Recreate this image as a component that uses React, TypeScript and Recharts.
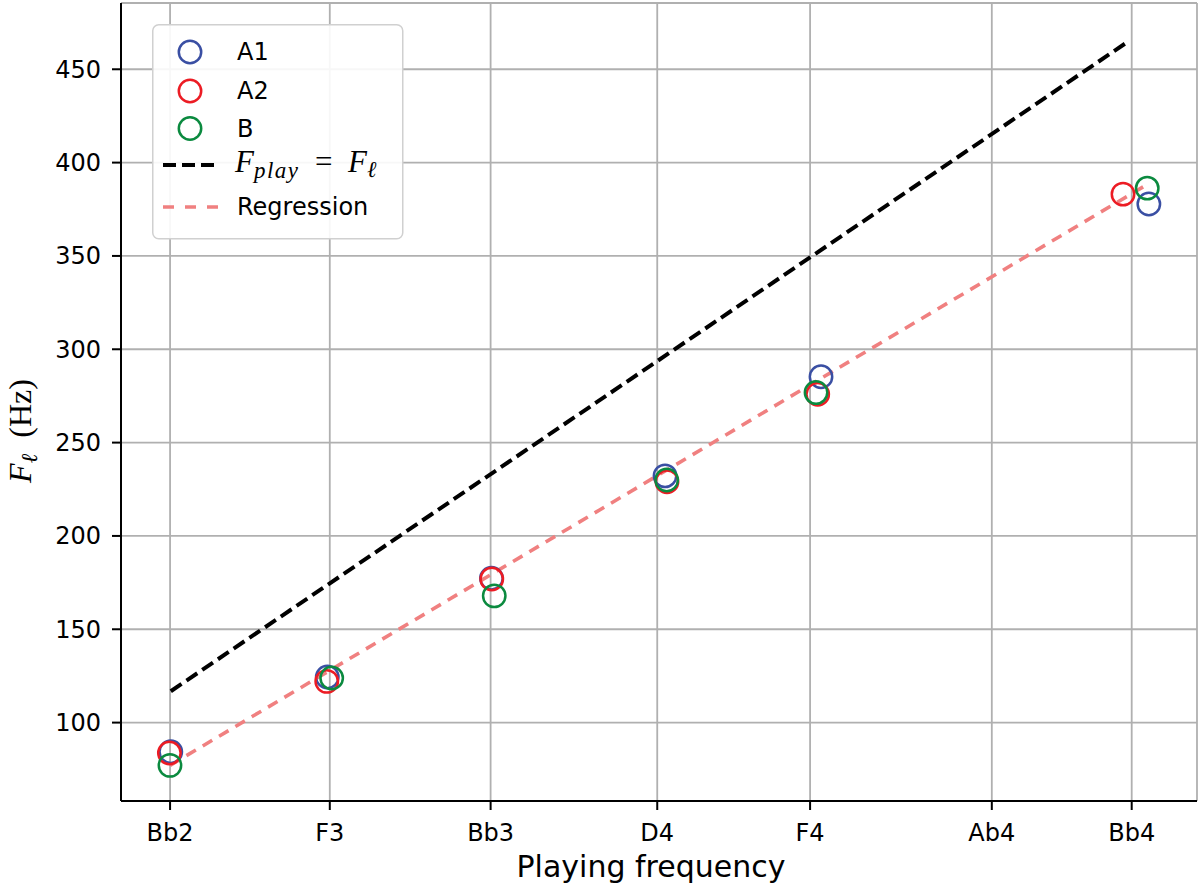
import React from 'react';
import { ComposedChart, Scatter, Line, XAxis, YAxis, CartesianGrid, Legend } from 'recharts';

// x axis: playing frequency in Hz, labelled with note names
const noteNames = ['Bb2', 'F3', 'Bb3', 'D4', 'F4', 'Ab4', 'Bb4'];
const noteFreqs = [116.54, 174.61, 233.08, 293.66, 349.23, 415.3, 466.16];
const yTicks = [100, 150, 200, 250, 300, 350, 400, 450];

// measured F_l per instrument (x is slightly jittered around the note)
const a1X = [116.8, 173.7, 233.4, 296.5, 353.2, 472.4];
const a1Y = [84.4, 124.4, 177.3, 232.2, 285.3, 377.8];
const a2X = [116.3, 173.5, 233.5, 297.2, 352.0, 463.0];
const a2Y = [83.7, 122.1, 176.9, 229.0, 275.9, 383.1];
const bX = [116.5, 175.3, 234.4, 297.1, 351.4, 471.8];
const bY = [77.1, 123.9, 167.9, 230.0, 276.8, 386.3];

const identityX = [116.8, 465.2];
const regressionX = [116.54, 471.8];
const regressionY = [77.1, 388.3];

const zip = (xs: number[], ys: number[]) => xs.map((x, i) => ({ x, y: ys[i] }));

const a1Data = zip(a1X, a1Y);
const a2Data = zip(a2X, a2Y);
const bData = zip(bX, bY);
const identityData = zip(identityX, identityX);
const regressionData = zip(regressionX, regressionY);

const BLUE = '#3a4fa3';
const RED = '#ec1c24';
const GREEN = '#0b8a3f';
const PINK = '#f08080';

const X_DOMAIN: [number, number] = [98.7, 489.9];
const Y_DOMAIN: [number, number] = [58, 485.5];

const ring = (color: string) => (props: any) => (
  <circle cx={props.cx} cy={props.cy} r={11.2} fill="none" stroke={color} strokeWidth={2.5} />
);

const tickStyle = { fontFamily: 'DejaVu Sans', fontSize: 24, fill: '#000' };
const mathFont = 'Liberation Serif';
const spine = { stroke: '#000', strokeWidth: 2 };

const LegendBox = () => (
  <svg width={252} height={216} style={{ display: 'block' }}>
    <rect x={0.75} y={0.75} width={250} height={214} rx={6} fill="#fff" fillOpacity={0.9} stroke="#d0d0d0" strokeWidth={1.5} />
    {[
      { label: 'A1', color: BLUE, y: 28 },
      { label: 'A2', color: RED, y: 67 },
      { label: 'B', color: GREEN, y: 104.5 },
    ].map((it) => (
      <g key={it.label}>
        <circle cx={38} cy={it.y} r={11.2} fill="none" stroke={it.color} strokeWidth={2.5} />
        <text x={85} y={it.y} dominantBaseline="central" style={{ fontFamily: 'DejaVu Sans', fontSize: 24 }}>
          {it.label}
        </text>
      </g>
    ))}
    <line x1={11} y1={141} x2={64} y2={141} stroke="#000" strokeWidth={4} strokeDasharray="13 6" />
    <text x={83} y={148} style={{ fontFamily: mathFont, fontSize: 31 }}>
      <tspan fontStyle="italic">F</tspan>
      <tspan fontStyle="italic" fontSize={23} dy={6} letterSpacing={1.5}>play</tspan>
      <tspan dy={-6}>{'\u2002=\u2002'}</tspan>
      <tspan fontStyle="italic">F</tspan>
      <tspan fontStyle="italic" fontSize={23} dy={5}>ℓ</tspan>
    </text>
    <line x1={11} y1={183} x2={67} y2={183} stroke={PINK} strokeWidth={3.6} strokeDasharray="11 11" />
    <text x={85} y={183} dominantBaseline="central" style={{ fontFamily: 'DejaVu Sans', fontSize: 24 }}>
      Regression
    </text>
  </svg>
);

const YLabel = () => (
  <text
    x={31}
    y={431}
    textAnchor="middle"
    transform="rotate(-90, 31, 431)"
    style={{ fontFamily: mathFont, fontSize: 32, fill: '#000' }}
  >
    <tspan fontStyle="italic">F</tspan>
    <tspan fontStyle="italic" fontSize={23} dy={6}>ℓ</tspan>
    <tspan dy={-6}>{'\u2002(Hz)'}</tspan>
  </text>
);

const XLabel = () => (
  <text x={651} y={877} textAnchor="middle" style={{ fontFamily: 'DejaVu Sans', fontSize: 30, fill: '#000' }}>
    Playing frequency
  </text>
);

export default function App() {
  return (
    <div style={{ position: 'absolute', left: 0, top: 0, background: '#fff' }}>
      <ComposedChart width={1200} height={886} margin={{ top: 3, right: 3, bottom: 0, left: 0 }}>
        <CartesianGrid stroke="#b0b0b0" strokeWidth={1.8} />
        <XAxis
          dataKey="x"
          type="number"
          domain={X_DOMAIN}
          ticks={noteFreqs}
          tickFormatter={(v: number) => noteNames[noteFreqs.indexOf(v)] ?? ''}
          allowDataOverflow
          height={85}
          tickSize={9}
          tickMargin={14}
          tick={tickStyle}
          axisLine={spine}
          tickLine={spine}
          label={<XLabel />}
        />
        <XAxis xAxisId="top" orientation="top" type="number" domain={X_DOMAIN} height={0} tick={false} tickLine={false} axisLine={spine} />
        <YAxis
          dataKey="y"
          type="number"
          domain={Y_DOMAIN}
          ticks={yTicks}
          allowDataOverflow
          width={121}
          tickSize={9}
          tickMargin={11}
          tick={tickStyle}
          axisLine={spine}
          tickLine={spine}
          label={<YLabel />}
        />
        <YAxis yAxisId="right" orientation="right" type="number" domain={Y_DOMAIN} width={0} tick={false} tickLine={false} axisLine={spine} />
        <Line data={identityData} dataKey="y" type="linear" stroke="#000" strokeWidth={4} strokeDasharray="13 6" dot={false} isAnimationActive={false} />
        <Line data={regressionData} dataKey="y" type="linear" stroke={PINK} strokeWidth={3.6} strokeDasharray="11 8" dot={false} isAnimationActive={false} />
        <Scatter name="A1" data={a1Data} shape={ring(BLUE)} isAnimationActive={false} />
        <Scatter name="A2" data={a2Data} shape={ring(RED)} isAnimationActive={false} />
        <Scatter name="B" data={bData} shape={ring(GREEN)} isAnimationActive={false} />
        <Legend
          layout="vertical"
          align="center"
          verticalAlign="middle"
          content={() => <LegendBox />}
          wrapperStyle={{ top: 24, left: 152, width: 252, height: 216 }}
        />
      </ComposedChart>
    </div>
  );
}
